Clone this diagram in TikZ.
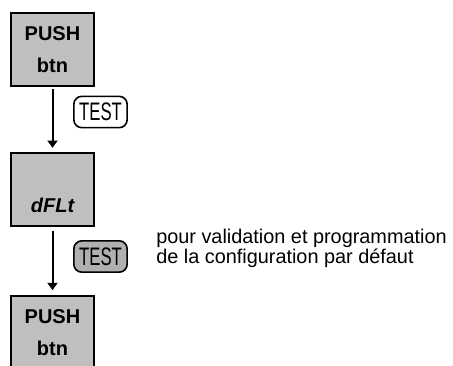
\documentclass[tikz,border=0pt]{standalone}
\usepackage{fontspec}
\setmainfont{Liberation Sans}
\usetikzlibrary{arrows.meta}

\begin{document}
\begin{tikzpicture}[x=0.75pt,y=-0.75pt,
	etat/.style={draw,line width=1.5pt,fill=gray!50,minimum width=62.3pt,minimum height=55pt,inner sep=0pt,align=center,font=\fontsize{15}{24.5}\selectfont\bfseries},
	touche/.style={draw,line width=1.2pt,rounded corners=6pt,minimum width=40pt,minimum height=23.5pt,inner sep=0pt,font=\fontsize{19}{19}\selectfont},
	fleche/.style={line width=1.5pt,-{Triangle[length=5.5pt,width=7.5pt]}}]
	\useasboundingbox (0,0) rectangle (453,365);
	\clip (0,0) rectangle (453,365);
	\node[etat] (push1) at (52.5,49.5) {PUSH\\btn};
	\node[etat] (dflt) at (52.5,189.5) {\vphantom{PUSH}\\\itshape dFLt};
	\node[etat] (push2) at (52.5,332.5) {PUSH\\btn};
	\draw[fleche,shorten <=1.5pt,shorten >=3pt] (push1) -- (dflt);
	\draw[fleche,shorten <=2.5pt,shorten >=3.5pt] (dflt) -- (push2);
	\node[touche,fill=white] (test1) at (100.5,112) {\scalebox{0.66}[1]{TEST}};
	\node[touche,fill=gray!62] (test2) at (100.5,256.5) {\scalebox{0.66}[1]{TEST}};
	\node[anchor=base west,inner sep=0pt,align=left,font=\fontsize{14.9}{15}\selectfont] (info) at (156,263)
		{pour validation et programmation\\de la configuration par défaut};
\end{tikzpicture}
\end{document}
